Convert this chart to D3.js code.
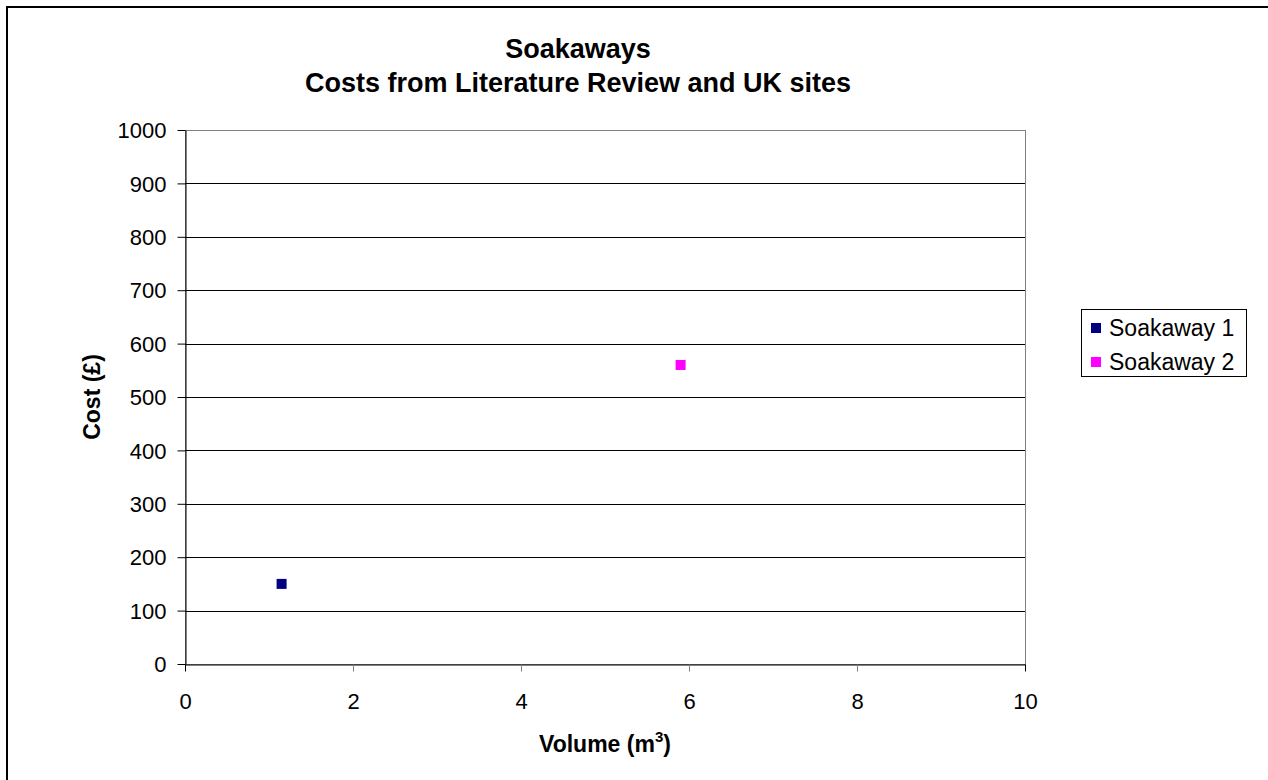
<!DOCTYPE html>
<html>
<head>
<meta charset="utf-8">
<script src="https://cdn.jsdelivr.net/npm/d3@7"></script>
<style>
  html, body { margin: 0; padding: 0; background: #fff; }
  svg { display: block; font-family: "Liberation Sans", Arial, sans-serif; }
</style>
</head>
<body>
<svg id="chart" width="1268" height="780"></svg>
<script>
// Series data: volume (m³) vs cost (£)
const seriesNames = ["Soakaway 1", "Soakaway 2"];
const seriesColors = ["#000080", "#ff00ff"];
const volumes = [1.15, 5.9];
const costs = [150, 560];
const xTicks = [0, 2, 4, 6, 8, 10];
const yTicks = [0, 100, 200, 300, 400, 500, 600, 700, 800, 900, 1000];

const svg = d3.select("#chart");
const plot = { left: 185, top: 130, right: 1025, bottom: 664 };

const x = d3.scaleLinear().domain([0, 10]).range([plot.left, plot.right]);
const y = d3.scaleLinear().domain([0, 1000]).range([plot.bottom, plot.top]);

// Outer chart border (left and top edges visible; right/bottom run off the page)
svg.append("rect")
  .attr("x", 7).attr("y", 7)
  .attr("width", 1300).attr("height", 800)
  .attr("fill", "none").attr("stroke", "#000").attr("stroke-width", 2);

// Plot area frame
svg.append("rect")
  .attr("x", plot.left + 0.5).attr("y", plot.top + 0.5)
  .attr("width", plot.right - plot.left).attr("height", plot.bottom - plot.top)
  .attr("fill", "#fff").attr("stroke", "#808080").attr("stroke-width", 1);

// Horizontal gridlines
svg.append("g")
  .selectAll("line")
  .data(yTicks.filter(d => d > 0 && d < 1000))
  .join("line")
  .attr("x1", plot.left).attr("x2", plot.right)
  .attr("y1", d => Math.round(y(d)) + 0.5).attr("y2", d => Math.round(y(d)) + 0.5)
  .attr("stroke", "#000").attr("stroke-width", 1);

// Axes
const yAxis = svg.append("g")
  .attr("transform", `translate(${plot.left + 0.5},0)`)
  .call(d3.axisLeft(y).tickValues(yTicks).tickFormat(d3.format("d"))
    .tickSize(8).tickSizeOuter(0).tickPadding(11));
const xAxis = svg.append("g")
  .attr("transform", `translate(0,${plot.bottom + 0.5})`)
  .call(d3.axisBottom(x).tickValues(xTicks).tickFormat(d3.format("d"))
    .tickSize(7).tickSizeOuter(0).tickPadding(10));

[xAxis, yAxis].forEach(g => {
  g.attr("font-size", null).attr("font-family", null);
  g.select(".domain").attr("stroke", "#000");
  g.selectAll(".tick line").attr("stroke", "#000");
  g.selectAll(".tick text")
    .style("font-size", "22px")
    .style("font-family", "'Liberation Sans', Arial, sans-serif")
    .attr("fill", "#000");
});
xAxis.selectAll(".tick line").filter(d => d !== 0 && d !== 10).attr("stroke", "#808080");
yAxis.selectAll(".tick text").attr("dy", "0.35em");
xAxis.selectAll(".tick text").attr("dy", null).attr("y", 44);

// Points
const points = volumes.map((v, i) => ({ x: v, y: costs[i], color: seriesColors[i] }));
svg.append("g")
  .selectAll("rect")
  .data(points)
  .join("rect")
  .attr("x", d => x(d.x) - 5).attr("y", d => y(d.y) - 5)
  .attr("width", 10).attr("height", 10)
  .attr("fill", d => d.color);

// Title
const title = svg.append("text")
  .attr("text-anchor", "middle")
  .style("font-size", "27px").attr("font-weight", "bold").attr("fill", "#000");
title.append("tspan").attr("x", 578).attr("y", 58).text("Soakaways");
title.append("tspan").attr("x", 578).attr("y", 92).text("Costs from Literature Review and UK sites");

// Axis titles
const xLabel = svg.append("text")
  .attr("x", 605).attr("y", 752).attr("text-anchor", "middle")
  .style("font-size", "23px").attr("font-weight", "bold").attr("fill", "#000");
xLabel.append("tspan").text("Volume (m");
xLabel.append("tspan").style("font-size", "15px").attr("dy", -10).text("3");
xLabel.append("tspan").attr("dy", 10).text(")");

svg.append("text")
  .attr("transform", `translate(100,${(plot.top + plot.bottom) / 2}) rotate(-90)`)
  .attr("text-anchor", "middle")
  .style("font-size", "23px").attr("font-weight", "bold").attr("fill", "#000")
  .text("Cost (£)");

// Legend
const legend = svg.append("g");
legend.append("rect")
  .attr("x", 1081.5).attr("y", 309.5).attr("width", 165).attr("height", 67)
  .attr("fill", "#fff").attr("stroke", "#000").attr("stroke-width", 1);
const entries = legend.selectAll("g.entry")
  .data(seriesNames)
  .join("g")
  .attr("class", "entry")
  .attr("transform", (d, i) => `translate(1091,${328 + i * 34})`);
entries.append("rect")
  .attr("x", 0).attr("y", -5).attr("width", 10).attr("height", 10)
  .attr("fill", (d, i) => seriesColors[i]);
entries.append("text")
  .attr("x", 18).attr("y", 0).attr("dy", "0.36em")
  .style("font-size", "23px").attr("fill", "#000")
  .text(d => d);
</script>
</body>
</html>
